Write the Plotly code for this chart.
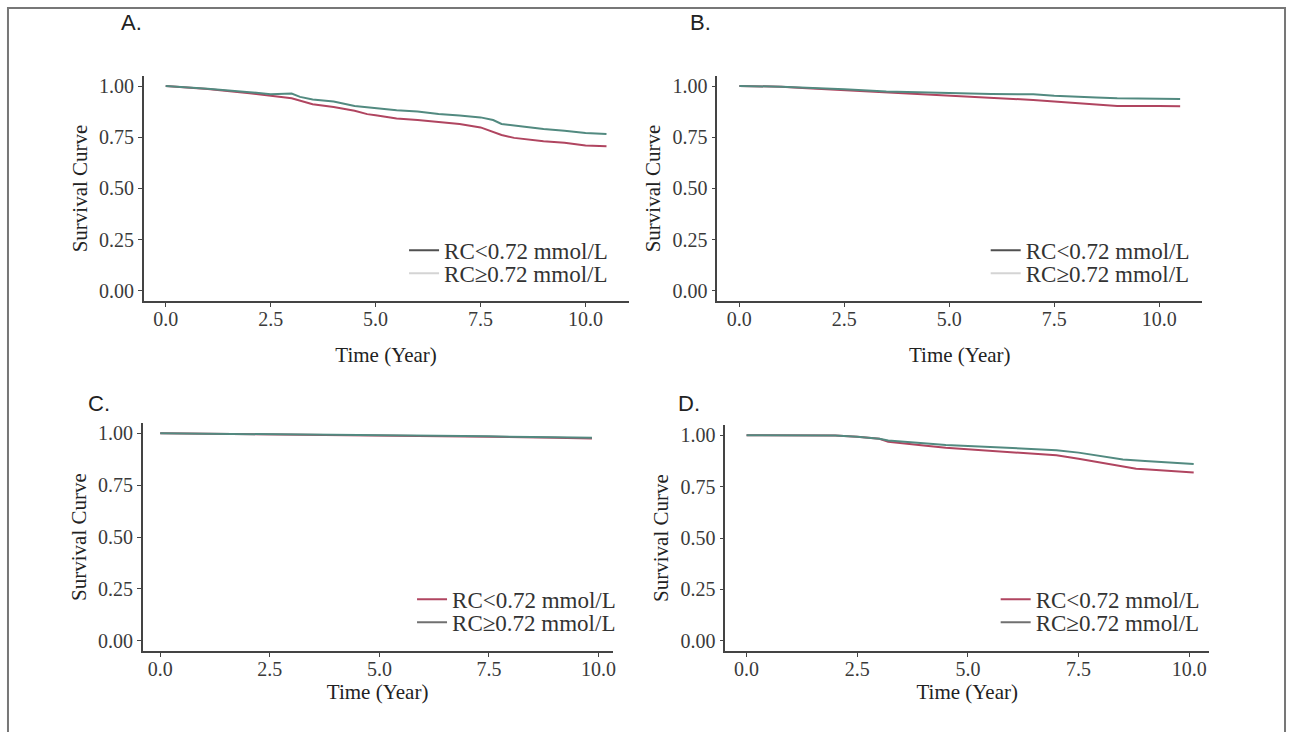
import plotly.graph_objects as go

W, H = 1290, 732

# ---- data ----
panel_labels = ["A.", "B.", "C.", "D."]
legend_names = ["RC<0.72 mmol/L", "RC≥0.72 mmol/L"]
x_ticks = [0.0, 2.5, 5.0, 7.5, 10.0]
y_ticks = [0.00, 0.25, 0.50, 0.75, 1.00]

a_time_low = [0, 1.0, 2.0, 2.5, 3.0, 3.5, 4.0, 4.5, 4.8, 5.0, 5.5, 6.0, 6.5, 7.0, 7.5, 7.8, 8.0, 8.3, 8.7, 9.0, 9.5, 10.0, 10.5]
a_surv_low = [1.0, 0.985, 0.965, 0.952, 0.940, 0.911, 0.898, 0.879, 0.863, 0.857, 0.842, 0.834, 0.823, 0.815, 0.798, 0.777, 0.761, 0.747, 0.737, 0.731, 0.723, 0.710, 0.706]
a_time_high = [0, 1.0, 2.0, 2.5, 3.0, 3.2, 3.5, 4.0, 4.5, 5.0, 5.5, 6.0, 6.5, 7.0, 7.5, 7.8, 8.0, 8.5, 9.0, 9.5, 10.0, 10.5]
a_surv_high = [1.0, 0.987, 0.970, 0.960, 0.963, 0.947, 0.934, 0.924, 0.903, 0.892, 0.882, 0.876, 0.863, 0.856, 0.847, 0.834, 0.815, 0.802, 0.790, 0.782, 0.771, 0.766]

b_time_low = [0, 1.0, 1.5, 2.5, 3.5, 5.0, 6.0, 7.0, 7.5, 8.0, 8.5, 9.0, 10.0, 10.5]
b_surv_low = [1.0, 0.997, 0.990, 0.980, 0.968, 0.953, 0.944, 0.932, 0.924, 0.916, 0.908, 0.903, 0.903, 0.901]
b_time_high = [0, 1.0, 2.5, 3.5, 5.0, 6.0, 7.0, 7.5, 8.5, 9.0, 10.0, 10.5]
b_surv_high = [1.0, 0.997, 0.984, 0.973, 0.966, 0.961, 0.960, 0.953, 0.944, 0.940, 0.938, 0.937]

c_time_low = [0, 2.5, 5.0, 7.5, 9.0, 9.85]
c_surv_low = [1.0, 0.995, 0.990, 0.983, 0.978, 0.975]
c_time_high = [0, 2.5, 5.0, 7.5, 9.0, 9.85]
c_surv_high = [1.0, 0.996, 0.990, 0.985, 0.980, 0.978]

d_time_low = [0, 1.0, 2.0, 2.5, 3.0, 3.2, 3.5, 4.0, 4.5, 5.0, 5.5, 6.0, 6.5, 7.0, 7.5, 8.0, 8.5, 8.8, 9.0, 9.5, 10.0, 10.1]
d_surv_low = [1.0, 1.0, 0.998, 0.992, 0.982, 0.968, 0.960, 0.950, 0.939, 0.932, 0.924, 0.918, 0.911, 0.902, 0.885, 0.866, 0.850, 0.837, 0.834, 0.827, 0.819, 0.819]
d_time_high = [0, 1.0, 2.0, 2.5, 3.0, 3.2, 3.5, 4.0, 4.5, 5.0, 5.5, 6.0, 6.5, 7.0, 7.5, 8.0, 8.5, 9.0, 9.5, 10.0, 10.1]
d_surv_high = [1.0, 1.0, 0.998, 0.992, 0.982, 0.974, 0.968, 0.960, 0.952, 0.947, 0.940, 0.935, 0.931, 0.927, 0.915, 0.898, 0.882, 0.874, 0.869, 0.863, 0.860]

panels = [
    (a_time_low, a_surv_low, a_time_high, a_surv_high),
    (b_time_low, b_surv_low, b_time_high, b_surv_high),
    (c_time_low, c_surv_low, c_time_high, c_surv_high),
    (d_time_low, d_surv_low, d_time_high, d_surv_high),
]

RED = "#b04560"
TEAL = "#528a80"
# legend swatches as they appear in the reference
legend_colors = [("#505050", "#d4d4d4"), ("#505050", "#d4d4d4"), (RED, "#707070"), (RED, "#707070")]

# pixel boxes: (left, right, top, bottom) and x range
boxes = [
    (144, 630, 75, 301, [-0.525, 11.025]),
    (719, 1205, 75, 301, [-0.525, 11.025]),
    (143, 614, 423, 652, [-0.4, 10.32]),
    (727, 1212, 425, 652, [-0.48, 10.45]),
]
legend_pos = [(405, 250), (988, 250), (413, 600), (998, 600)]
row_gap = 23
letter_pos = [(119, 22), (690, 22), (86, 404), (678, 404)]
xtitle_standoff = [18, 18, 0, 0]

SERIF = "Liberation Serif, Times New Roman, serif"

fig = go.Figure()
layout = dict(
    width=W, height=H, margin=dict(l=0, r=0, t=0, b=0),
    paper_bgcolor="white", plot_bgcolor="white",
    font=dict(family=SERIF, color="#333333"),
    annotations=[], shapes=[],
)

for i, (tl, sl, th, sh) in enumerate(panels):
    n = "" if i == 0 else str(i + 1)
    xa, ya = "x" + n, "y" + n
    fig.add_trace(go.Scatter(x=tl, y=sl, mode="lines", line=dict(color=RED, width=2),
                             xaxis=xa, yaxis=ya, showlegend=False, name=legend_names[0]))
    fig.add_trace(go.Scatter(x=th, y=sh, mode="lines", line=dict(color=TEAL, width=2),
                             xaxis=xa, yaxis=ya, showlegend=False, name=legend_names[1]))
    lx, ly = legend_pos[i]
    for k in range(2):
        idx = 2 * i + k + 1
        lg = "legend" if idx == 1 else "legend" + str(idx)
        fig.add_trace(go.Scatter(x=[None], y=[None], mode="lines",
                                 line=dict(color=legend_colors[i][k], width=2),
                                 name=legend_names[k], xaxis=xa, yaxis=ya,
                                 legend=lg, showlegend=True))
        layout[lg] = dict(x=lx / W, y=1 - (ly + k * row_gap) / H, xanchor="left", yanchor="middle",
                          bgcolor="rgba(0,0,0,0)", itemwidth=30,
                          font=dict(family=SERIF, size=23, color="#333333"))

    l, r, t, b, xr = boxes[i]
    axis_common = dict(showline=True, linecolor="#444444", linewidth=1.5, ticks="outside",
                       ticklen=4, tickcolor="#444444", tickwidth=1.2, showgrid=False,
                       zeroline=False, tickfont=dict(family=SERIF, size=20, color="#3a3a3a"))
    layout["xaxis" + n] = dict(axis_common, domain=[l / W, r / W], range=xr, anchor=ya,
                               tickvals=x_ticks, ticktext=[f"{v:.1f}" for v in x_ticks],
                               ticklabelstandoff=-5,
                               title=dict(text="Time (Year)", standoff=xtitle_standoff[i],
                                          font=dict(family=SERIF, size=21, color="#222222")))
    layout["yaxis" + n] = dict(axis_common, domain=[1 - b / H, 1 - t / H], range=[-0.05, 1.05],
                               anchor=xa, tickvals=y_ticks, ticktext=[f"{v:.2f}" for v in y_ticks],
                               title=dict(text="Survival Curve", standoff=6,
                                          font=dict(family=SERIF, size=21, color="#222222")))
    px, py = letter_pos[i]
    layout["annotations"].append(dict(text=panel_labels[i], x=px / W, y=1 - py / H,
                                      xref="paper", yref="paper", xanchor="left", yanchor="middle",
                                      showarrow=False,
                                      font=dict(family="Liberation Sans, Arial, sans-serif", size=22,
                                                color="#222222")))

# thin frame around the whole figure
layout["shapes"].append(dict(type="rect", xref="paper", yref="paper",
                             x0=8 / W, x1=1288 / W, y0=-0.05, y1=1 - 7 / H,
                             line=dict(color="#777777", width=2)))

fig.update_layout(**layout)
fig.write_html("out.html", config={"displayModeBar": False},
               post_script="document.body.style.margin='0';")
